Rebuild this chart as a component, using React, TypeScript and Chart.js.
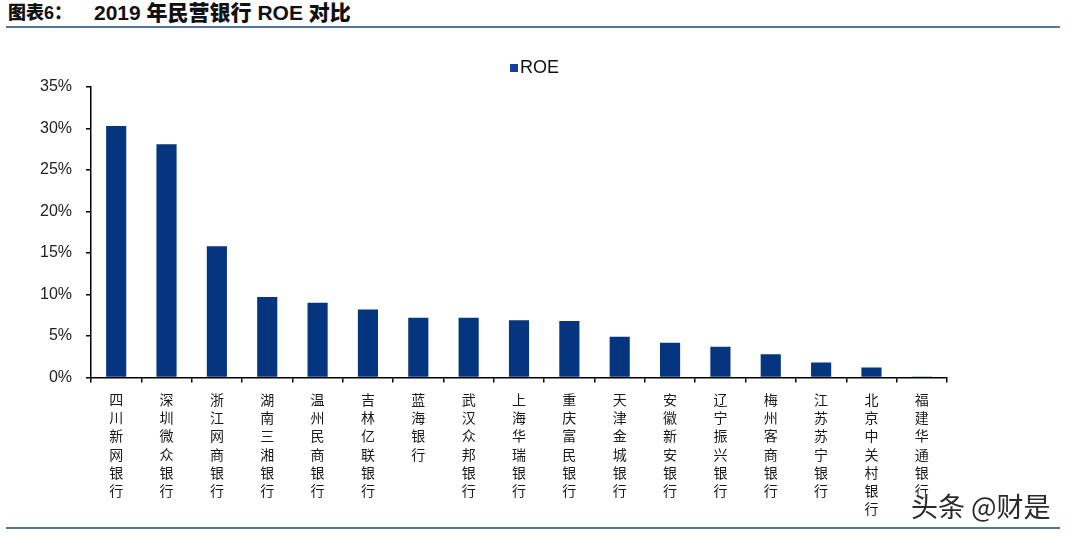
import React, { useEffect, useRef } from "react";
import { Chart, registerables } from "chart.js";

Chart.register(...registerables);

const TITLE_PREFIX = "图表6：";
const TITLE_TEXT = "2019 年民营银行 ROE 对比";
const SERIES_LABEL = "ROE";
const BANKS = [
  "四川新网银行",
  "深圳微众银行",
  "浙江网商银行",
  "湖南三湘银行",
  "温州民商银行",
  "吉林亿联银行",
  "蓝海银行",
  "武汉众邦银行",
  "上海华瑞银行",
  "重庆富民银行",
  "天津金城银行",
  "安徽新安银行",
  "辽宁振兴银行",
  "梅州客商银行",
  "江苏苏宁银行",
  "北京中关村银行",
  "福建华通银行",
];
const ROE = [30.3, 28.1, 15.8, 9.7, 9.0, 8.2, 7.2, 7.2, 6.9, 6.8, 4.9, 4.2, 3.7, 2.8, 1.8, 1.2, 0.05];
const Y_MIN = 0;
const Y_MAX = 35;
const Y_STEP = 5;
const WATERMARK = "头条 @财是";

const BAR_COLOR = "#05357f";

export default function App() {
  const canvasRef = useRef<HTMLCanvasElement | null>(null);

  useEffect(() => {
    const canvas = canvasRef.current;
    if (!canvas) return;
    const chart = new Chart(canvas, {
      type: "bar",
      data: {
        labels: BANKS.map((b) => Array.from(b)),
        datasets: [
          {
            label: SERIES_LABEL,
            data: ROE,
            backgroundColor: BAR_COLOR,
            borderWidth: 0,
            barPercentage: 0.4,
            categoryPercentage: 1.0,
          },
        ],
      },
      options: {
        responsive: false,
        animation: false,
        layout: { padding: { left: 0, right: 123, top: 87, bottom: 0 } },
        plugins: {
          legend: { display: false },
          tooltip: { enabled: false },
        },
        scales: {
          x: {
            type: "category",
            offset: true,
            grid: {
              display: true,
              offset: true,
              drawOnChartArea: false,
              drawTicks: true,
              tickLength: 5,
              color: "#000",
              lineWidth: 1.5,
            },
            border: { display: true, color: "#000", width: 1.5 },
            ticks: {
              autoSkip: false,
              maxRotation: 0,
              minRotation: 0,
              padding: 8,
              color: "#1a1a1a",
              font: { family: "'Noto Sans CJK SC', sans-serif", size: 14, lineHeight: 1.3 },
            },
            afterFit: (scale: any) => {
              scale.height = 158.5;
            },
          },
          y: {
            min: Y_MIN,
            max: Y_MAX,
            grid: {
              display: true,
              drawOnChartArea: false,
              drawTicks: true,
              tickLength: 5,
              color: "#000",
              lineWidth: 1.5,
            },
            border: { display: true, color: "#000", width: 1.5 },
            ticks: {
              stepSize: Y_STEP,
              padding: 14,
              color: "#222",
              font: { family: "'Liberation Sans', Arial, sans-serif", size: 16 },
              callback: (v: any) => `${v}%`,
            },
            afterFit: (scale: any) => {
              scale.width = 91;
            },
          },
        },
      },
    });
    return () => chart.destroy();
  }, []);

  const titleStyle: React.CSSProperties = {
    position: "absolute",
    top: 0,
    fontFamily: "'Liberation Sans', 'Noto Sans CJK SC', sans-serif",
    fontWeight: 900,
    lineHeight: "26px",
    color: "#111",
    whiteSpace: "pre",
  };

  return (
    <div
      style={{
        position: "absolute",
        left: 0,
        top: 0,
        width: 1070,
        height: 536,
        background: "#fff",
        overflow: "hidden",
      }}
    >
      <div style={{ ...titleStyle, left: 8, fontSize: 18 }}>{TITLE_PREFIX}</div>
      <div style={{ ...titleStyle, left: 94, fontSize: 21 }}>{TITLE_TEXT}</div>
      <div
        style={{
          position: "absolute",
          left: 6,
          top: 26,
          width: 1054,
          height: 2,
          background: "#56779a",
        }}
      />
      <canvas
        ref={canvasRef}
        width={1070}
        height={536}
        style={{ position: "absolute", left: 0, top: 0, width: 1070, height: 536 }}
      />
      <div
        style={{
          position: "absolute",
          left: 510,
          top: 57,
          display: "flex",
          alignItems: "center",
          fontFamily: "'Liberation Sans', Arial, sans-serif",
          fontSize: 18,
          color: "#111",
        }}
      >
        <span
          style={{
            display: "inline-block",
            width: 8,
            height: 8,
            background: "#1540a0",
            marginRight: 2,
          }}
        />
        <span>{SERIES_LABEL}</span>
      </div>
      <div
        style={{
          position: "absolute",
          left: 911,
          top: 486,
          fontFamily: "'Noto Sans CJK SC', sans-serif",
          fontSize: 27,
          color: "#2a2a2a",
          whiteSpace: "pre",
          textShadow: "0 0 2px #fff, 0 0 2px #fff",
        }}
      >
        {WATERMARK}
      </div>
      <div
        style={{
          position: "absolute",
          left: 6,
          top: 527,
          width: 1054,
          height: 2,
          background: "#56779a",
        }}
      />
    </div>
  );
}
